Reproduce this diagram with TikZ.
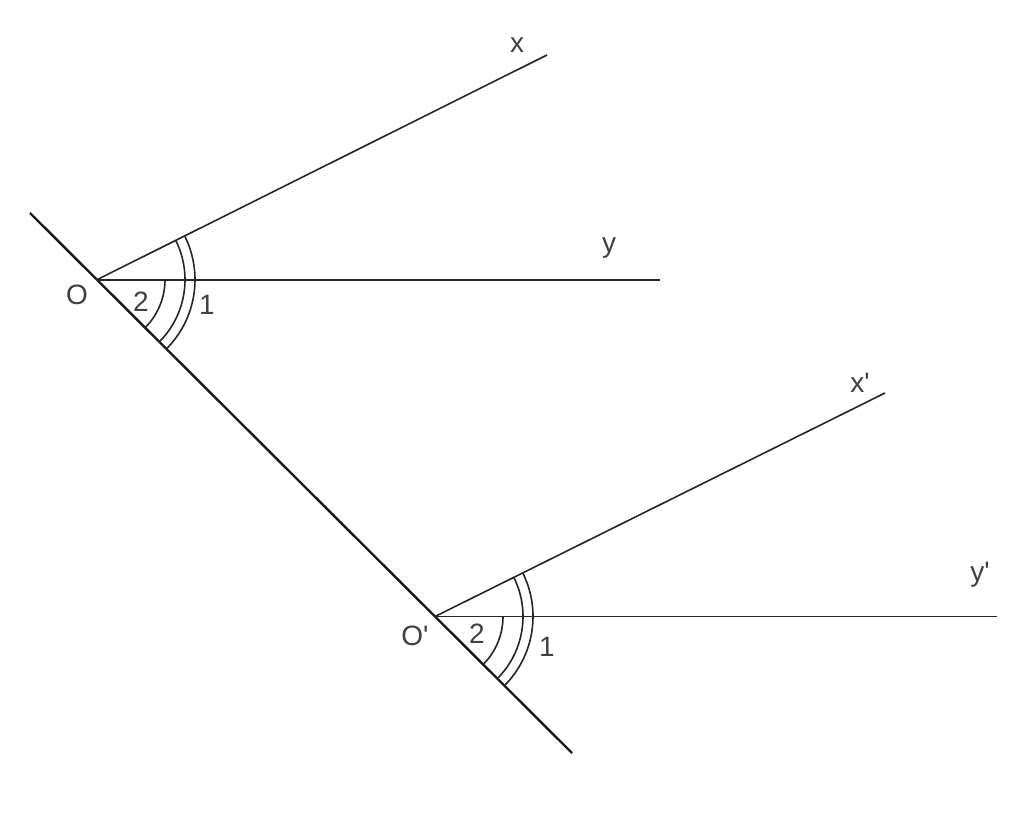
\documentclass[tikz,border=0pt]{standalone}
\usepackage{fontspec}
\setmainfont{Liberation Sans}[Ligatures=TeXOff]
\begin{document}
\begin{tikzpicture}[x=0.5pt,y=-0.5pt,
  thick line/.style={line width=1.2pt,draw=black!90},
  ray/.style={line width=0.8pt,draw=black!85},
  arcl/.style={line width=0.8pt,draw=black!85},
  lbl/.style={text=black!75,font=\fontsize{14}{16}\selectfont,inner sep=0pt}]
\useasboundingbox (0,0) rectangle (1024,813);
% points
\coordinate (A) at (30,213);
\coordinate (B) at (572,753);
\coordinate (O) at (97,279.7);
\coordinate (Op) at (435,616.5);
\coordinate (X) at (547,55);
\coordinate (Y) at (660,279.7);
\coordinate (Xp) at (885,393);
\coordinate (Yp) at (997,616.5);
% lines
\draw[thick line] (A) -- (B);
\draw[ray] (O) -- (X);
\draw[ray] (O) -- (Y);
\draw[ray] (Op) -- (Xp);
\draw[ray] (Op) -- (Yp);
% arcs at O (y axis points down: positive angles go down on screen)
\draw[arcl] ([shift={(0:68)}]O) arc[start angle=0,end angle=45,radius=68];
\draw[arcl] ([shift={(-26.5:88)}]O) arc[start angle=-26.5,end angle=45,radius=88];
\draw[arcl] ([shift={(-26.5:98)}]O) arc[start angle=-26.5,end angle=45,radius=98];
% arcs at O'
\draw[arcl] ([shift={(0:68)}]Op) arc[start angle=0,end angle=45,radius=68];
\draw[arcl] ([shift={(-26.5:88)}]Op) arc[start angle=-26.5,end angle=45,radius=88];
\draw[arcl] ([shift={(-26.5:98)}]Op) arc[start angle=-26.5,end angle=45,radius=98];
% labels
\node[lbl] (lx) at (517,45) {x};
\node[lbl] (ly) at (609,248) {y};
\node[lbl] (lxp) at (860,383) {x'};
\node[lbl] (lyp) at (980,575) {y'};
\node[lbl] (lO) at (77,295) {O};
\node[lbl,anchor=west] (lOp) at (401,636) {O'};
\node[lbl] (l1) at (207,305) {1};
\node[lbl] (l2) at (141,302) {2};
\node[lbl] (l1p) at (547,647) {1};
\node[lbl] (l2p) at (477,634) {2};
\end{tikzpicture}
\end{document}
